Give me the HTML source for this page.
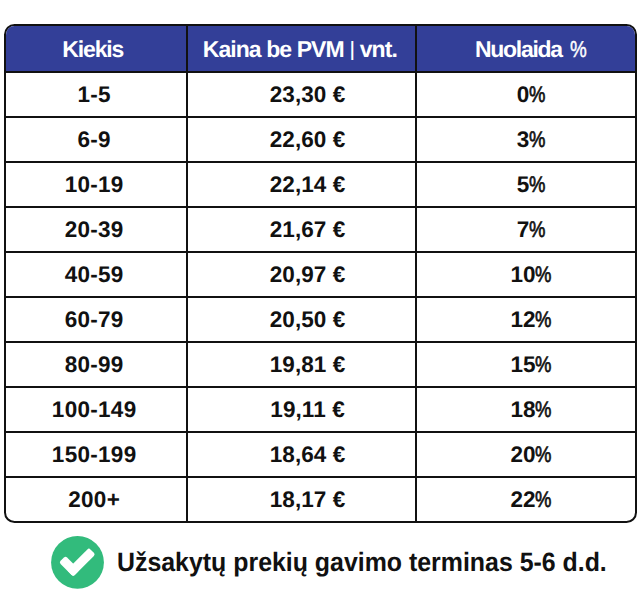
<!DOCTYPE html>
<html><head><meta charset="utf-8">
<style>
html,body{margin:0;padding:0;background:#fff;}
body{text-rendering:geometricPrecision;width:640px;height:593px;position:relative;overflow:hidden;font-family:"Liberation Sans",Arial,sans-serif;font-weight:bold;color:#111;}
.tbl{position:absolute;left:4px;top:24px;width:629px;height:495px;border:2px solid #111;border-radius:10.5px;overflow:hidden;background:#fff;}
.hdr{position:absolute;left:0;top:0;right:0;height:46px;background:#333f98;}
.h{position:absolute;left:0;right:0;height:2px;background:#111;}
.v{position:absolute;top:0;bottom:0;width:2px;background:#111;}
.t{position:absolute;width:300px;text-align:center;white-space:nowrap;}
.b{font-size:22.5px;line-height:22.5px;}
.hd{color:#fff;font-size:23px;line-height:23px;}
.bar{font-weight:normal;display:inline-block;transform:scaleY(0.9);transform-origin:0 4px;}
.pch{display:inline-block;font-weight:normal;transform:scaleX(0.82);transform-origin:0 0;-webkit-text-stroke:0.45px currentColor;}
.pc{display:inline-block;font-weight:normal;transform:scaleX(0.82);transform-origin:0 0;-webkit-text-stroke:0.7px currentColor;margin-right:-3.6px;}
.foot{position:absolute;left:117.3px;top:549.0px;font-size:26.5px;line-height:26.5px;white-space:nowrap;letter-spacing:0px;transform:scaleX(0.9395);transform-origin:0 0;}
svg.ic{position:absolute;left:0;top:0;width:640px;height:593px;}
</style></head><body>
<div class="tbl">
  <div class="hdr"></div>
  <div class="h" style="top:45px"></div>
  <div class="h" style="top:90px"></div>
  <div class="h" style="top:135px"></div>
  <div class="h" style="top:180px"></div>
  <div class="h" style="top:225px"></div>
  <div class="h" style="top:270px"></div>
  <div class="h" style="top:315px"></div>
  <div class="h" style="top:360px"></div>
  <div class="h" style="top:405px"></div>
  <div class="h" style="top:450px"></div>
  <div class="v" style="left:180px"></div>
  <div class="v" style="left:409px"></div>
</div>
<div class="t hd" style="left:-57.28px;top:38.00px;letter-spacing:-1.15px">Kiekis</div>
<div class="t hd" style="left:149.84px;top:38.00px;letter-spacing:-0.92px">Kaina be PVM <span class="bar">|</span> vnt.</div>
<div class="t hd" style="width:auto;text-align:left;left:475px;top:38px;letter-spacing:-1.28px">Nuolaida</div>
<div class="t hd" style="width:auto;text-align:left;left:570px;top:38px"><span class="pch">%</span></div>
<div class="t b" style="left:-55.85px;top:83.50px;letter-spacing:0.3px">1-5</div>
<div class="t b" style="left:157.55px;top:83.50px;letter-spacing:0.1px">23,30 €</div>
<div class="t b" style="left:381.20px;top:83.50px;letter-spacing:0px">0<span class="pc">%</span></div>
<div class="t b" style="left:-55.85px;top:128.50px;letter-spacing:0.3px">6-9</div>
<div class="t b" style="left:157.55px;top:128.50px;letter-spacing:0.1px">22,60 €</div>
<div class="t b" style="left:381.20px;top:128.50px;letter-spacing:0px">3<span class="pc">%</span></div>
<div class="t b" style="left:-55.85px;top:173.50px;letter-spacing:0.3px">10-19</div>
<div class="t b" style="left:157.55px;top:173.50px;letter-spacing:0.1px">22,14 €</div>
<div class="t b" style="left:381.20px;top:173.50px;letter-spacing:0px">5<span class="pc">%</span></div>
<div class="t b" style="left:-55.85px;top:218.50px;letter-spacing:0.3px">20-39</div>
<div class="t b" style="left:157.55px;top:218.50px;letter-spacing:0.1px">21,67 €</div>
<div class="t b" style="left:381.20px;top:218.50px;letter-spacing:0px">7<span class="pc">%</span></div>
<div class="t b" style="left:-55.85px;top:263.50px;letter-spacing:0.3px">40-59</div>
<div class="t b" style="left:157.55px;top:263.50px;letter-spacing:0.1px">20,97 €</div>
<div class="t b" style="left:381.20px;top:263.50px;letter-spacing:0px">10<span class="pc">%</span></div>
<div class="t b" style="left:-55.85px;top:308.50px;letter-spacing:0.3px">60-79</div>
<div class="t b" style="left:157.55px;top:308.50px;letter-spacing:0.1px">20,50 €</div>
<div class="t b" style="left:381.20px;top:308.50px;letter-spacing:0px">12<span class="pc">%</span></div>
<div class="t b" style="left:-55.85px;top:353.50px;letter-spacing:0.3px">80-99</div>
<div class="t b" style="left:157.55px;top:353.50px;letter-spacing:0.1px">19,81 €</div>
<div class="t b" style="left:381.20px;top:353.50px;letter-spacing:0px">15<span class="pc">%</span></div>
<div class="t b" style="left:-55.85px;top:398.50px;letter-spacing:0.3px">100-149</div>
<div class="t b" style="left:157.55px;top:398.50px;letter-spacing:0.1px">19,11 €</div>
<div class="t b" style="left:381.20px;top:398.50px;letter-spacing:0px">18<span class="pc">%</span></div>
<div class="t b" style="left:-55.85px;top:443.50px;letter-spacing:0.3px">150-199</div>
<div class="t b" style="left:157.55px;top:443.50px;letter-spacing:0.1px">18,64 €</div>
<div class="t b" style="left:381.20px;top:443.50px;letter-spacing:0px">20<span class="pc">%</span></div>
<div class="t b" style="left:-55.85px;top:488.50px;letter-spacing:0.3px">200+</div>
<div class="t b" style="left:157.55px;top:488.50px;letter-spacing:0.1px">18,17 €</div>
<div class="t b" style="left:381.20px;top:488.50px;letter-spacing:0px">22<span class="pc">%</span></div>
<svg class="ic" viewBox="0 0 640 593"><circle cx="77.5" cy="562.4" r="26.4" fill="#32bb7c"/><g fill="#fff"><rect x="59.36" y="561.57" width="19.95" height="9.2" rx="2.2" transform="rotate(45 69.33000000000001 566.1700000000001)"/><rect x="65.44" y="557.55" width="31.3" height="9.2" rx="2.2" transform="rotate(-45 81.09 562.1500000000001)"/></g></svg>
<div class="foot">Užsakytų prekių gavimo terminas 5-6 d.d.</div>
</body></html>
